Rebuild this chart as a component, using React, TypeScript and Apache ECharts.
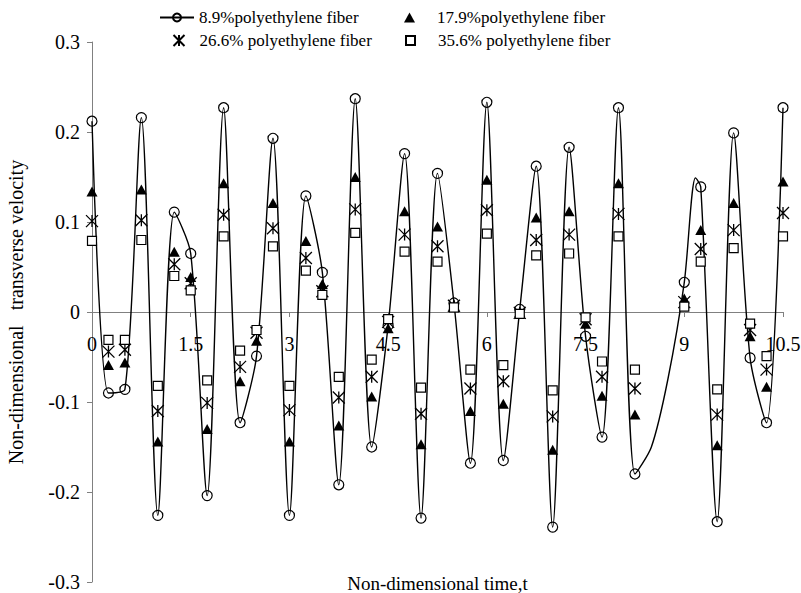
import React, { useEffect, useRef } from "react";
import * as echarts from "echarts";

const tValues = [0, 0.25, 0.5, 0.75, 1, 1.25, 1.5, 1.75, 2, 2.25, 2.5, 2.75, 3, 3.25, 3.5, 3.75, 4, 4.25, 4.5, 4.75, 5, 5.25, 5.5, 5.75, 6, 6.25, 6.5, 6.75, 7, 7.25, 7.5, 7.75, 8, 8.25, 8.5, 8.75, 9, 9.25, 9.5, 9.75, 10, 10.25, 10.5];

const fiber89 = [0.212, -0.090, -0.086, 0.216, -0.226, 0.111, 0.065, -0.204, 0.227, -0.123, -0.049, 0.193, -0.226, 0.129, 0.044, -0.192, 0.237, -0.150, -0.015, 0.176, -0.229, 0.154, 0.010, -0.168, 0.233, -0.165, 0.003, 0.162, -0.239, 0.183, -0.027, -0.139, 0.227, -0.180, null, null, 0.033, 0.139, -0.233, 0.199, -0.051, -0.123, 0.227];
const fiber179 = [0.134, -0.059, -0.056, 0.136, -0.144, 0.067, 0.039, -0.130, 0.143, -0.077, -0.032, 0.121, -0.144, 0.079, 0.031, -0.126, 0.150, -0.094, -0.018, 0.112, -0.147, 0.095, 0.008, -0.110, 0.147, -0.102, 0.000, 0.105, -0.153, 0.112, -0.013, -0.093, 0.143, -0.114, null, null, 0.015, 0.091, -0.148, 0.121, -0.027, -0.083, 0.145];
const fiber266 = [0.101, -0.044, -0.042, 0.102, -0.110, 0.053, 0.032, -0.101, 0.108, -0.061, -0.023, 0.093, -0.109, 0.060, 0.023, -0.095, 0.114, -0.072, -0.011, 0.086, -0.113, 0.073, 0.007, -0.085, 0.113, -0.077, -0.001, 0.080, -0.116, 0.086, -0.008, -0.072, 0.109, -0.085, null, null, 0.011, 0.070, -0.114, 0.091, -0.020, -0.064, 0.110];
const fiber356 = [0.079, -0.031, -0.031, 0.080, -0.082, 0.040, 0.024, -0.076, 0.084, -0.043, -0.020, 0.073, -0.082, 0.046, 0.019, -0.072, 0.088, -0.053, -0.008, 0.067, -0.084, 0.056, 0.005, -0.064, 0.087, -0.059, -0.002, 0.063, -0.087, 0.065, -0.006, -0.055, 0.084, -0.064, null, null, 0.006, 0.056, -0.086, 0.071, -0.013, -0.049, 0.084];

// curve-only points (no marker) where the 8.9% curve continues between markers
const curveOnlyT = [8.5, 8.75, 9.17];
const curveOnlyY = [-0.150, -0.075, 0.149];

const names = [
  "8.9%polyethylene fiber",
  "17.9%polyethylene fiber",
  "26.6% polyethylene fiber",
  "35.6% polyethylene fiber",
];

const FONT = "Liberation Serif";
const STAR = "path://M0,0L10,10M10,0L0,10M5,0L5,10";

export default function App() {
  const ref = useRef<HTMLDivElement>(null);
  useEffect(() => {
    if (!ref.current) return;
    const chart = echarts.init(ref.current, null, { renderer: "svg" });

    const linePts: any[] = [];
    tValues.forEach((t, i) => {
      if (fiber89[i] !== null) linePts.push([t, fiber89[i]]);
    });
    curveOnlyT.forEach((t, i) => {
      linePts.push({ value: [t, curveOnlyY[i]], symbol: "none" });
    });
    linePts.sort((a, b) => {
      const xa = Array.isArray(a) ? a[0] : a.value[0];
      const xb = Array.isArray(b) ? b[0] : b.value[0];
      return xa - xb;
    });
    const pts = (arr: (number | null)[]) =>
      tValues.map((t, i) => (arr[i] === null ? null : [t, arr[i]])).filter((p) => p !== null);

    const legendText = { fontFamily: FONT, fontSize: 17, color: "#000" };
    const mkLegend = (name: string, left: number, top: number, w: number, h: number, pad: number) => ({
      orient: "horizontal",
      left,
      top,
      itemWidth: w,
      itemHeight: h,
      padding: 0,
      symbolKeepAspect: true,
      data: [name],
      textStyle: { ...legendText, padding: [0, 0, 0, pad] },
    });

    chart.setOption({
      animation: false,
      backgroundColor: "#fff",
      grid: { left: 92, right: 18, top: 42, bottom: 11, containLabel: false, outerBoundsMode: "none" },
      legend: [
        mkLegend(names[0], 159, 9, 34, 10, 0),
        mkLegend(names[2], 171, 32, 11, 11, 10),
        mkLegend(names[1], 404, 9, 11, 10, 17),
        mkLegend(names[3], 405, 32, 9, 9, 18),
      ],
      xAxis: {
        type: "value",
        position: "bottom",
        offset: -270,
        min: 0,
        max: 10.5,
        interval: 1.5,
        name: "Non-dimensional time,t",
        nameLocation: "middle",
        nameGap: 262,
        nameTextStyle: { fontFamily: FONT, fontSize: 19, color: "#000" },
        axisLine: { onZero: false, lineStyle: { color: "#808080", width: 1 } },
        axisTick: { show: true, length: 5, lineStyle: { color: "#808080" } },
        axisLabel: { show: true, fontFamily: FONT, fontSize: 20, color: "#000", margin: 22, hideOverlap: false },
        splitLine: { show: false },
      },
      yAxis: {
        type: "value",
        min: -0.3,
        max: 0.3,
        interval: 0.1,
        name: "Non-dimensional   transverse velocity",
        nameLocation: "middle",
        nameGap: 66,
        nameTextStyle: { fontFamily: FONT, fontSize: 20, color: "#000" },
        axisLine: { show: true, onZero: false, lineStyle: { color: "#808080", width: 1 } },
        axisTick: { show: true, length: 5, lineStyle: { color: "#808080" } },
        axisLabel: {
          fontFamily: FONT,
          fontSize: 20,
          color: "#000",
          margin: 12,
          formatter: (v: number) => String(Math.round(v * 10) / 10),
        },
        splitLine: { show: false },
      },
      series: [
        {
          name: names[0],
          type: "line",
          data: linePts,
          smooth: 0.28,
          symbol: "circle",
          symbolSize: 10,
          showAllSymbol: true,
          lineStyle: { color: "#000", width: 1.4 },
          itemStyle: { color: "rgba(255,255,255,0)", borderColor: "#000", borderWidth: 1.2 },
          z: 2,
        },
        {
          name: names[1],
          type: "scatter",
          data: pts(fiber179),
          symbol: "triangle",
          symbolSize: [11, 10],
          symbolKeepAspect: true,
          itemStyle: { color: "#000", opacity: 1 },
          z: 3,
        },
        {
          name: names[2],
          type: "scatter",
          data: pts(fiber266),
          symbol: STAR,
          symbolSize: 12,
          symbolKeepAspect: true,
          itemStyle: { color: "none", borderColor: "#000", borderWidth: 1.3, opacity: 1 },
          z: 3,
        },
        {
          name: names[3],
          type: "scatter",
          data: pts(fiber356),
          symbol: "rect",
          symbolSize: 9,
          symbolKeepAspect: true,
          itemStyle: { color: "#fff", borderColor: "#000", borderWidth: 1.2, opacity: 1 },
          z: 3,
        },
      ],
    });
    return () => chart.dispose();
  }, []);
  return (
    <div
      ref={ref}
      style={{ position: "fixed", left: 0, top: 0, width: 801, height: 593 }}
    />
  );
}
